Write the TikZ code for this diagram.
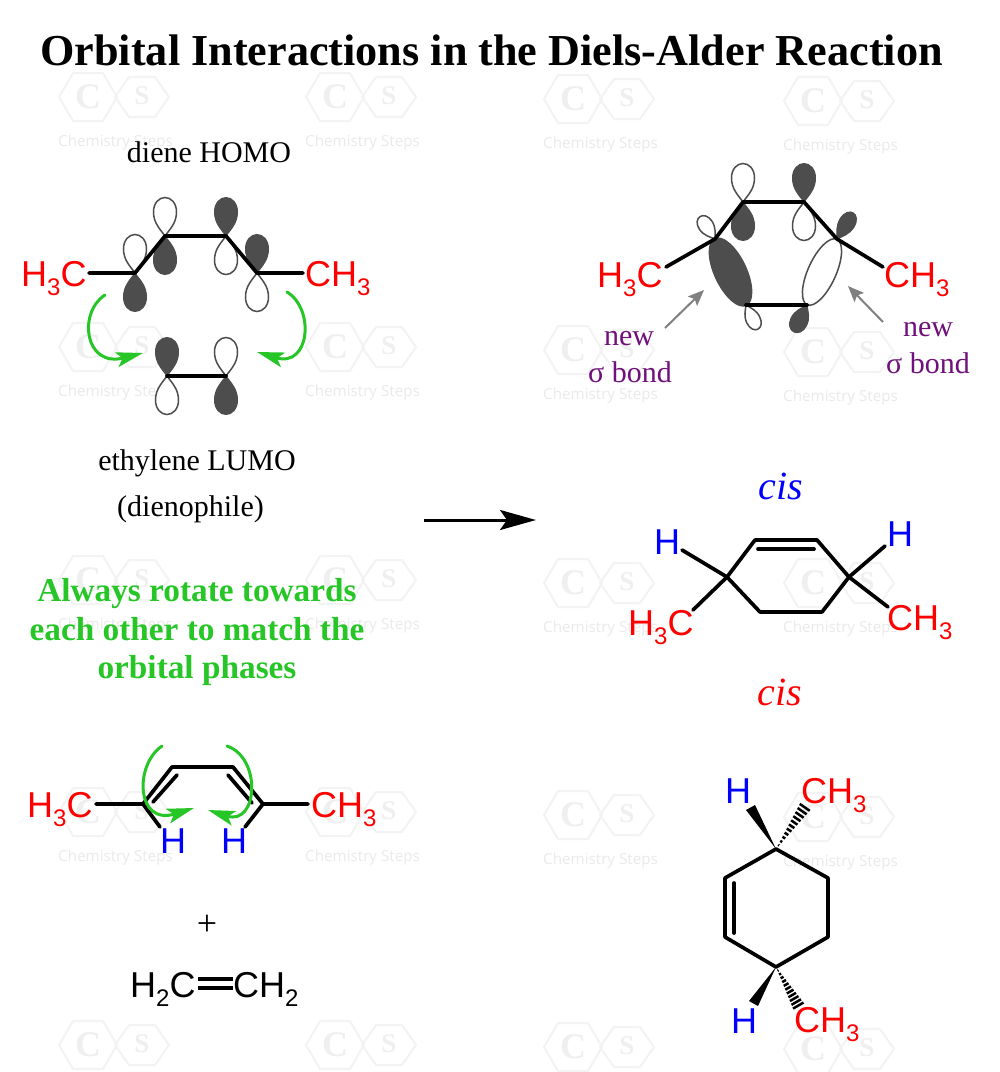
\documentclass[tikz,border=0pt]{standalone}
\usepackage{fontspec}
\setmainfont{Liberation Serif}
\newfontfamily\arialfont{Liberation Sans}
\newfontfamily\markfont{Open Sans}
\usetikzlibrary{arrows.meta}

\definecolor{lobegray}{HTML}{4D4D4D}
\definecolor{arrowgreen}{HTML}{26C626}
\definecolor{sigmapurple}{HTML}{70107A}
\definecolor{markgray}{HTML}{F3F3F3}
\definecolor{markletter}{HTML}{EFEFEF}
\definecolor{marktext}{HTML}{EAEAEA}

\newcommand{\subd}[1]{\raisebox{-9pt}{\fontsize{24}{24}\selectfont #1}}
\newcommand{\cshexes}{
        \draw[markgray, line width=2pt, line join=round]
            (-29,0) -- (-15,-24) -- (15,-24) -- (29,0) -- (15,24) -- (-15,24) -- cycle;
        \draw[markgray, line width=2pt, line join=round]
            (27,0) -- (41,-20) -- (67,-20) -- (81,0) -- (67,20) -- (41,20) -- cycle;
        \node[markletter, font=\bfseries\fontsize{36}{36}\selectfont, inner sep=0pt] (-c) at (0,0) {C};
        \node[markletter, font=\bfseries\fontsize{27}{27}\selectfont, inner sep=0pt] (-s) at (54,-1) {S};
}

\tikzset{
    atomlabel/.style={font=\arialfont\fontsize{36}{36}\selectfont, inner sep=0pt, anchor=base west},
    serifbig/.style={font=\fontsize{30}{30}\selectfont, inner sep=0pt, anchor=base},
    greennote/.style={arrowgreen, font=\bfseries\fontsize{33.3}{33.3}\selectfont, inner sep=0pt, anchor=base},
    bond/.style={line width=3.7pt, line cap=round, line join=round},
    darklobe/.style={fill=lobegray, draw=lobegray, line width=1pt},
    whitelobe/.style={fill=white, draw=lobegray, line width=1.5pt},
    rotatearrow/.style={arrowgreen, line width=3pt, line cap=round,
        -{Stealth[length=27pt, width=15pt, inset=6pt]}},
    lobe/.pic={
        \path[pic actions] (0,0) .. controls (-5,-7) and (-11.5,-13) .. (-11.5,-24)
            .. controls (-11.5,-33) and (-6,-38.5) .. (0,-38.5)
            .. controls (6,-38.5) and (11.5,-33) .. (11.5,-24)
            .. controls (11.5,-13) and (5,-7) .. (0,0) -- cycle;
    },
    hashbond/.pic={
        \foreach \i in {1,...,11}
            \draw[line width=2.5pt] (\i*4.6,-\i*0.55) -- (\i*4.6,\i*0.55);
    },
    csmark/.pic={
        \cshexes
        \node[marktext, font=\markfont\fontsize{15.2}{15.2}\selectfont, inner sep=0pt, anchor=base west] (-text) at (-30,49) {Chemistry Steps};
    },
    cslogo/.pic={
        \cshexes
    },
}

\begin{document}
\begin{tikzpicture}[x=1pt, y=-1pt]
        \useasboundingbox[fill=white] (0,0) rectangle (1000,1072);

        % Watermarks
        \pic (markaa) at (88,97) {csmark};
        \pic (markab) at (335,97) {csmark};
        \pic (markac) at (573,99) {csmark};
        \pic (markad) at (813,101) {csmark};
        \pic (markba) at (88,347) {csmark};
        \pic (markbb) at (335,347) {csmark};
        \pic (markbc) at (573,350) {csmark};
        \pic (markbd) at (813,352) {csmark};
        \pic (markca) at (88,580) {csmark};
        \pic (markcb) at (335,580) {csmark};
        \pic (markcc) at (573,583) {csmark};
        \pic (markcd) at (813,583) {csmark};
        \pic (markda) at (88,812) {csmark};
        \pic (markdb) at (335,812) {csmark};
        \pic (markdc) at (573,815) {csmark};
        \pic (markdd) at (813,817) {csmark};
        \pic (markea) at (88,1045) {cslogo};
        \pic (markeb) at (335,1045) {cslogo};
        \pic (markec) at (573,1047) {cslogo};
        \pic (marked) at (813,1049) {cslogo};

        % Title
        \node[font=\bfseries\fontsize{44.2}{44.2}\selectfont, inner sep=0pt, anchor=base] (title) at (491.5,65)
            {Orbital Interactions in the Diels-Alder Reaction};

        % Diene HOMO atoms
        \coordinate (homoa) at (135,273);
        \coordinate (homob) at (165,236);
        \coordinate (homoc) at (226,236);
        \coordinate (homod) at (257,273);
        \coordinate (homol) at (89,273);
        \coordinate (homor) at (303,273);

        % Diene HOMO lobes
        \pic[whitelobe] at (homoa) {lobe};
        \pic[darklobe, rotate=180] at (homoa) {lobe};
        \pic[whitelobe] at (homob) {lobe};
        \pic[darklobe, rotate=180] at (homob) {lobe};
        \pic[darklobe] at (homoc) {lobe};
        \pic[whitelobe, rotate=180] at (homoc) {lobe};
        \pic[darklobe] at (homod) {lobe};
        \pic[whitelobe, rotate=180] at (homod) {lobe};

        \draw[bond] (homol) -- (homoa) -- (homob) -- (homoc) -- (homod) -- (homor);
        \node[atomlabel, red] (dienel) at (21,286) {H\subd{3}C};
        \node[atomlabel, red] (dienem) at (305,286) {CH\subd{3}};
        \node[serifbig] (homotext) at (209,162) {diene HOMO};

        % Ethylene LUMO
        \coordinate (lumoa) at (167,376);
        \coordinate (lumob) at (226,376);
        \pic[darklobe] at (lumoa) {lobe};
        \pic[whitelobe, rotate=180] at (lumoa) {lobe};
        \pic[whitelobe] at (lumob) {lobe};
        \pic[darklobe, rotate=180] at (lumob) {lobe};
        \draw[bond] (lumoa) -- (lumob);
        \node[serifbig] (lumotext) at (197,470) {ethylene LUMO};
        \node[serifbig] (dienophile) at (190.5,516) {(dienophile)};

        % Green arrows to the dienophile
        \coordinate (arrla) at (105,295);
        \coordinate (arrlb) at (143,353);
        \coordinate (arrra) at (287,292);
        \coordinate (arrrb) at (257,352);
        \draw[rotatearrow] (arrla) .. controls (78,312) and (84,368) .. (arrlb);
        \draw[rotatearrow] (arrra) .. controls (315,309) and (310,368) .. (arrrb);

        % Reaction arrow
        \coordinate (reactstart) at (424,520);
        \coordinate (reactend) at (536,520);
        \draw[line width=3pt, -{Stealth[length=36pt, width=20pt, inset=7pt]}] (reactstart) -- (reactend);

        % Green note
        \node[greennote] (notea) at (197,601) {Always rotate towards};
        \node[greennote] (noteb) at (197,640) {each other to match the};
        \node[greennote] (notec) at (197,678) {orbital phases};

        % Diene, bottom left
        \coordinate (dienea) at (143,804);
        \coordinate (dieneb) at (172,767);
        \coordinate (dienec) at (233,767);
        \coordinate (diened) at (263,804);
        \coordinate (dieneml) at (96,804);
        \coordinate (dienemr) at (308,804);
        \coordinate (dienehl) at (160,827);
        \coordinate (dienehr) at (245,827);
        \coordinate (innerla) at (153,802);
        \coordinate (innerlb) at (177,775);
        \coordinate (innerra) at (228,775);
        \coordinate (innerrb) at (252,803);
        \draw[bond] (dieneml) -- (dienea) -- (dieneb) -- (dienec) -- (diened) -- (dienemr);
        \draw[bond] (dienea) -- (dienehl);
        \draw[bond] (diened) -- (dienehr);
        \draw[bond] (innerla) -- (innerlb);
        \draw[bond] (innerra) -- (innerrb);
        \coordinate (rotla) at (162,746);
        \coordinate (rotlb) at (194,808);
        \coordinate (rotra) at (227,746);
        \coordinate (rotrb) at (208,810);
        \draw[rotatearrow] (rotla) .. controls (134,765) and (136,826) .. (rotlb);
        \draw[rotatearrow] (rotra) .. controls (262,758) and (258,826) .. (rotrb);
        \node[atomlabel, red] (dienec3) at (27,817) {H\subd{3}C};
        \node[atomlabel, red] (dienec4) at (311,817) {CH\subd{3}};
        \node[atomlabel, blue] (dieneh1) at (160,853) {H};
        \node[atomlabel, blue] (dieneh2) at (221,853) {H};

        % Plus and ethylene
        \node[font=\fontsize{36}{36}\selectfont, inner sep=0pt] (plus) at (207,925) {+};
        \node[atomlabel] (ethl) at (130,997) {H\subd{2}C};
        \node[atomlabel] (ethr) at (233,997) {CH\subd{2}};
        \coordinate (dblaa) at (198,979);
        \coordinate (dblab) at (233,979);
        \coordinate (dblba) at (198,988);
        \coordinate (dblbb) at (233,988);
        \draw[line width=3.6pt] (dblaa) -- (dblab);
        \draw[line width=3.6pt] (dblba) -- (dblbb);

        % Transition state atoms
        \coordinate (tsa) at (743,202);
        \coordinate (tsb) at (804,202);
        \coordinate (tsc) at (837,239);
        \coordinate (tsd) at (807,305);
        \coordinate (tse) at (746,305);
        \coordinate (tsf) at (715,239);
        \coordinate (tsl) at (666,267);
        \coordinate (tsr) at (883,267);

        % Transition state lobes
        \pic[whitelobe] at (tsa) {lobe};
        \pic[darklobe, rotate=180] at (tsa) {lobe};
        \pic[darklobe] at (tsb) {lobe};
        \pic[whitelobe, rotate=180] at (tsb) {lobe};
        \pic[whitelobe, rotate=34, xscale=0.65, yscale=0.7] at (tsf) {lobe};
        \pic[darklobe, rotate=-32, xscale=0.7, yscale=0.8] at (tsc) {lobe};
        \pic[whitelobe, rotate=-154, xscale=0.62, yscale=0.7] at (tse) {lobe};
        \pic[darklobe, rotate=154, xscale=0.75, yscale=0.78] at (tsd) {lobe};
        \draw[darklobe, rotate around={-64.8:(730.5,272)}] (730.5,272) ellipse [x radius=37, y radius=16];
        \draw[whitelobe, rotate around={65.6:(822,272)}] (822,272) ellipse [x radius=36, y radius=14];

        \draw[bond] (tsl) -- (tsf) -- (tsa) -- (tsb) -- (tsc) -- (tsr);
        \draw[bond] (tse) -- (tsd);
        \node[atomlabel, red] (tslabl) at (597,287) {H\subd{3}C};
        \node[atomlabel, red] (tslabr) at (884,287) {CH\subd{3}};

        % New sigma bonds
        \coordinate (sigla) at (665,328);
        \coordinate (siglb) at (704,290);
        \coordinate (sigra) at (883,322);
        \coordinate (sigrb) at (848,286);
        \draw[gray, line width=2pt, -{Stealth[length=16pt, width=13pt, inset=3pt]}] (sigla) -- (siglb);
        \draw[gray, line width=2pt, -{Stealth[length=16pt, width=13pt, inset=3pt]}] (sigra) -- (sigrb);
        \node[serifbig, sigmapurple] (newl) at (629,345) {new};
        \node[serifbig, sigmapurple] (sigmal) at (630,382) {σ bond};
        \node[serifbig, sigmapurple] (newr) at (928,336) {new};
        \node[serifbig, sigmapurple] (sigmar) at (928,373) {σ bond};

        % Product, side view
        \node[font=\itshape\fontsize{40}{40}\selectfont, blue, inner sep=0pt, anchor=base] (cisa) at (781,499) {cis};
        \coordinate (sidea) at (727,577);
        \coordinate (sideb) at (755,540);
        \coordinate (sidec) at (817,540);
        \coordinate (sided) at (849,577);
        \coordinate (sidee) at (822,612);
        \coordinate (sidef) at (760,612);
        \coordinate (sidehl) at (682,550);
        \coordinate (sidehr) at (885,546);
        \coordinate (sideml) at (693,610);
        \coordinate (sidemr) at (888,607);
        \coordinate (sideia) at (758,549);
        \coordinate (sideib) at (814,549);
        \draw[bond] (sidea) -- (sideb) -- (sidec) -- (sided) -- (sidee) -- (sidef) -- cycle;
        \draw[bond] (sideia) -- (sideib);
        \draw[bond] (sidehl) -- (sidea) -- (sideml);
        \draw[bond] (sidehr) -- (sided) -- (sidemr);
        \node[atomlabel, blue] (sideh1) at (654,554) {H};
        \node[atomlabel, blue] (sideh2) at (887,546) {H};
        \node[atomlabel, red] (sidec1) at (628,635) {H\subd{3}C};
        \node[atomlabel, red] (sidec2) at (887,630) {CH\subd{3}};

        % Product, top view
        \node[font=\itshape\fontsize{40}{40}\selectfont, red, inner sep=0pt, anchor=base] (cisb) at (780,705) {cis};
        \coordinate (ringa) at (776,849);
        \coordinate (ringb) at (828,878);
        \coordinate (ringc) at (828,937);
        \coordinate (ringd) at (776,967);
        \coordinate (ringe) at (725,937);
        \coordinate (ringf) at (725,878);
        \coordinate (ringia) at (734,883);
        \coordinate (ringib) at (734,933);
        \draw[bond] (ringa) -- (ringb) -- (ringc) -- (ringd) -- (ringe) -- (ringf) -- cycle;
        \draw[bond] (ringia) -- (ringib);
        \fill (ringa) -- (755,805) -- (746,810) -- cycle;
        \fill (ringd) -- (749,1001) -- (758,1006) -- cycle;
        \pic[rotate=55.4] at (ringa) {hashbond};
        \pic[rotate=-60, xscale=0.88] at (ringd) {hashbond};
        \node[atomlabel, blue] (ringh1) at (725,803) {H};
        \node[atomlabel, red] (ringc1) at (801,803) {CH\subd{3}};
        \node[atomlabel, blue] (ringh2) at (731,1033) {H};
        \node[atomlabel, red] (ringc2) at (794,1032) {CH\subd{3}};

    \end{tikzpicture}
\end{document}
